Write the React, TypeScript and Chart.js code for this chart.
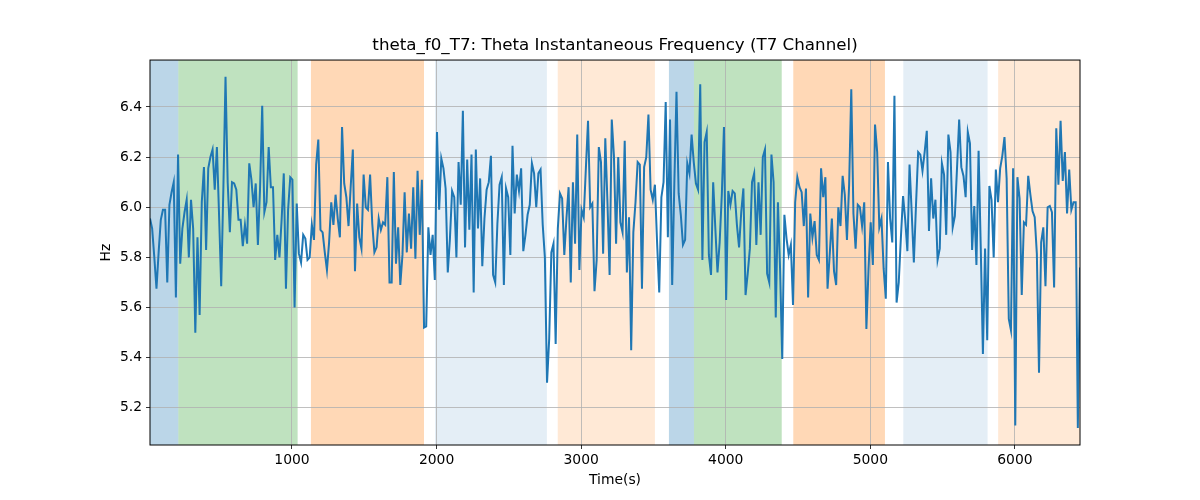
import { useEffect, useRef } from "react"
import { Chart, registerables } from "chart.js"

Chart.register(...registerables)

const TITLE = "theta_f0_T7: Theta Instantaneous Frequency (T7 Channel)"
const X_LABEL = "Time(s)"
const Y_LABEL = "Hz"

// time span of the recording (s)
const timeStart = 18
const timeEnd = 6450

// instantaneous theta frequency (Hz), one value per sample
const freqValues = [
  5.955, 5.915, 5.8, 5.675, 5.82, 5.95, 5.99, 5.99, 5.7, 6.01,
  6.06, 6.1, 5.64, 6.21, 5.775, 5.915, 5.98, 6.03, 5.8, 6.03,
  5.915, 5.5, 5.88, 5.57, 6.02, 6.16, 5.83, 6.155, 6.2, 6.23,
  6.07, 6.24, 5.97, 5.685, 6.075, 6.52, 6.1, 5.9, 6.1, 6.095,
  6.07, 5.95, 5.95, 5.845, 5.93, 5.855, 6.175, 6.11, 6.0, 6.095,
  5.85, 6.075, 6.405, 5.98,
  6.02, 6.24, 6.08, 6.08, 5.79, 5.89, 5.8, 5.95, 6.135, 5.675,
  5.99, 6.12, 6.11, 5.6, 6.015, 5.815, 5.78, 5.89, 5.875, 5.79,
  5.8, 5.93, 5.87, 6.17, 6.27, 5.91, 5.9, 5.82, 5.75, 5.86,
  6.02, 5.93, 6.05, 5.955, 5.88, 6.32, 6.095, 6.04, 5.925, 6.08,
  6.23, 5.745, 6.015, 5.88, 5.835, 6.13, 6.0, 5.99, 6.13, 5.935,
  5.82, 5.84, 5.955,
  5.91, 5.94, 5.93, 6.12, 5.7, 5.7, 6.14, 5.775, 5.92, 5.69,
  5.81, 6.06, 5.82, 5.975, 5.835, 6.08, 5.795, 6.145, 5.89, 6.11,
  5.52, 5.525, 5.92, 5.81, 5.89, 5.71, 6.3, 5.99, 6.195, 6.155,
  6.075, 5.74, 5.875, 6.065, 6.04, 5.8, 6.18, 6.01, 6.385, 5.84,
  6.19, 5.91,
  6.21, 5.66, 6.23, 5.915, 6.115, 5.765, 5.955, 6.07, 6.1, 6.205,
  5.73, 5.7, 5.935, 6.09, 6.12, 5.69, 6.075, 6.04, 5.81, 6.245,
  5.975, 6.13, 6.065, 6.155, 5.825, 5.89, 5.97, 6.01, 6.175, 6.135,
  6.0, 6.135, 6.15, 5.93, 5.8, 5.3, 5.475, 5.82, 5.855, 5.455,
  5.915, 6.055,
  6.035, 5.81, 5.955, 6.08, 5.7, 6.1, 5.855, 6.29, 5.75, 5.99,
  5.96, 6.155, 6.345, 6.0, 6.015, 5.665, 5.79, 6.24, 6.18, 5.815,
  6.275, 6.02, 5.73, 6.35, 6.205, 5.855, 6.2, 5.94, 5.9, 6.265,
  5.74, 5.96, 5.43, 5.9, 6.02, 6.18, 6.17, 5.675, 6.16, 6.2,
  6.37, 6.07,
  6.03, 6.09, 5.86, 5.66, 6.04, 6.1, 6.42, 5.88, 6.35, 5.69,
  6.095, 6.46, 6.055, 5.97, 5.85, 5.87, 6.175, 6.135, 6.29, 6.18,
  6.095, 6.07, 6.49, 5.79, 6.26, 6.3, 5.81, 5.73, 6.1, 5.915,
  5.74, 5.86, 6.05, 6.32, 5.63, 6.065, 6.01, 6.065, 6.055, 5.93,
  5.84,
  5.98, 6.075, 5.65, 5.735, 5.835, 6.1, 6.135, 5.85, 6.1, 5.89,
  6.2, 6.23, 5.735, 5.7, 6.21, 6.1, 5.56, 6.02, 5.755, 5.395,
  5.97, 5.875, 5.81, 5.85, 5.61, 6.02, 6.12, 6.08, 6.06, 5.925,
  6.075, 5.64, 5.975, 5.88, 5.945, 5.81, 5.79, 6.155, 6.04, 6.12,
  5.675,
  5.81, 5.955, 5.745, 5.69, 6.0, 5.925, 6.125, 6.05, 5.87, 6.09,
  6.47, 5.975, 5.835, 6.01, 6.0, 5.925, 6.02, 5.515, 5.755, 5.94,
  5.77, 6.33, 6.22, 5.92, 5.955, 5.755, 5.635, 6.18, 5.955, 5.86,
  6.445, 5.62, 5.7, 5.88, 6.045, 5.95, 5.825, 6.17, 5.98, 5.78,
  6.01, 6.22,
  6.21, 6.145, 6.22, 6.305, 5.905, 6.115, 5.955, 6.03, 5.79, 5.835,
  6.175, 6.13, 5.89, 6.29, 6.22, 5.92, 5.965, 6.155, 6.35, 6.16,
  6.125, 6.04, 6.3, 6.255, 5.83, 6.005, 5.77, 6.225, 5.84, 5.415,
  5.835, 5.47, 6.085, 6.03, 5.8, 6.15, 6.02,
  6.155, 6.205, 6.28, 6.115, 5.555, 5.51, 6.155, 5.13, 6.12, 6.035,
  5.65, 5.94, 5.93, 6.125, 6.05, 5.985, 5.96, 5.815, 5.34, 5.86,
  5.92, 5.685, 6.0, 6.005, 5.98, 5.68, 6.315, 6.09, 6.345, 6.105,
  6.22, 5.975, 6.15, 5.99, 6.02, 6.02, 5.12, 5.76,
]

const xTicks = [1000, 2000, 3000, 4000, 5000, 6000]
const yTicks = [5.2, 5.4, 5.6, 5.8, 6.0, 6.2, 6.4]
const yMin = 5.052
const yMax = 6.587

// shaded epochs (s) and the group each belongs to
const spanStarts = [18, 214, 1131, 1989, 2838, 3607, 3780, 4467, 5228, 5884]
const spanEnds = [214, 1039, 1913, 2763, 3510, 3780, 4387, 5101, 5811, 6450]
const spanGroups = [0, 1, 2, 3, 4, 0, 1, 2, 3, 4]

const GROUP_COLORS = [
  "rgba(31, 119, 180, 0.3)",
  "rgba(44, 160, 44, 0.3)",
  "rgba(255, 127, 14, 0.3)",
  "rgba(31, 119, 180, 0.12)",
  "rgba(255, 127, 14, 0.17)",
]

const FONT = "'DejaVu Sans', sans-serif"

const spanPlugin = {
  id: "epochSpans",
  beforeDraw(chart: any) {
    const { ctx, chartArea, scales } = chart
    const x = scales.x
    ctx.save()
    spanStarts.forEach((start, i) => {
      const x0 = Math.max(x.getPixelForValue(start), chartArea.left)
      const x1 = Math.min(x.getPixelForValue(spanEnds[i]), chartArea.right)
      ctx.fillStyle = GROUP_COLORS[spanGroups[i]]
      ctx.fillRect(x0, chartArea.top, x1 - x0, chartArea.bottom - chartArea.top)
    })
    ctx.restore()
  },
  afterDraw(chart: any) {
    const { ctx, chartArea } = chart
    ctx.save()
    ctx.strokeStyle = "#000"
    ctx.lineWidth = 1
    ctx.strokeRect(chartArea.left, chartArea.top, chartArea.right - chartArea.left, chartArea.bottom - chartArea.top)
    ctx.restore()
  },
}

export default function App() {
  const chartRef = useRef<HTMLCanvasElement>(null)
  const chartInstance = useRef<Chart | null>(null)

  useEffect(() => {
    if (!chartRef.current) return
    if (chartInstance.current) chartInstance.current.destroy()

    const ctx = chartRef.current.getContext("2d")
    if (!ctx) return

    const step = (timeEnd - timeStart) / (freqValues.length - 1)
    const points = freqValues.map((v, i) => ({ x: timeStart + i * step, y: v }))

    chartInstance.current = new Chart(ctx, {
      type: "line",
      data: {
        datasets: [
          {
            data: points,
            borderColor: "#1f77b4",
            borderWidth: 2,
            pointRadius: 0,
            tension: 0,
            fill: false,
          },
        ],
      },
      options: {
        responsive: true,
        maintainAspectRatio: false,
        animation: false,
        layout: { padding: { left: 0, right: 120, top: 0, bottom: 0 } },
        plugins: {
          legend: { display: false },
          tooltip: { enabled: false },
          title: {
            display: true,
            text: TITLE,
            fullSize: false,
            color: "#000",
            font: { family: FONT, size: 16.7, weight: "normal" },
            padding: { top: 36, bottom: 4 },
          },
        },
        scales: {
          x: {
            type: "linear",
            min: timeStart,
            max: timeEnd,
            afterBuildTicks: (scale: any) => {
              scale.ticks = xTicks.map((v) => ({ value: v }))
            },
            afterFit: (scale: any) => {
              scale.height = 55
            },
            ticks: {
              color: "#000",
              font: { family: FONT, size: 13.9 },
              padding: 3,
              maxRotation: 0,
              autoSkip: false,
              callback: (v: any) => String(v),
            },
            grid: { color: "#b0b0b0", lineWidth: 0.8, tickColor: "#000", tickLength: 4 },
            border: { display: false },
            title: {
              display: true,
              text: X_LABEL,
              color: "#000",
              font: { family: FONT, size: 13.9 },
              padding: { top: 0, bottom: 11 },
            },
          },
          y: {
            type: "linear",
            min: yMin,
            max: yMax,
            afterBuildTicks: (scale: any) => {
              scale.ticks = yTicks.map((v) => ({ value: v }))
            },
            afterFit: (scale: any) => {
              scale.width = 150
            },
            ticks: {
              color: "#000",
              font: { family: FONT, size: 13.9 },
              padding: 4,
              callback: (v: any) => Number(v).toFixed(1),
            },
            grid: { color: "#b0b0b0", lineWidth: 0.8, tickColor: "#000", tickLength: 4 },
            border: { display: false },
            title: {
              display: true,
              text: Y_LABEL,
              color: "#000",
              font: { family: FONT, size: 13.9 },
              padding: { top: 98, bottom: 0 },
            },
          },
        },
      },
      plugins: [spanPlugin],
    })

    return () => {
      if (chartInstance.current) {
        chartInstance.current.destroy()
        chartInstance.current = null
      }
    }
  }, [])

  return (
    <div style={{ position: "fixed", left: 0, top: 0, width: 1200, height: 500, background: "#fff" }}>
      <canvas ref={chartRef}></canvas>
    </div>
  )
}
